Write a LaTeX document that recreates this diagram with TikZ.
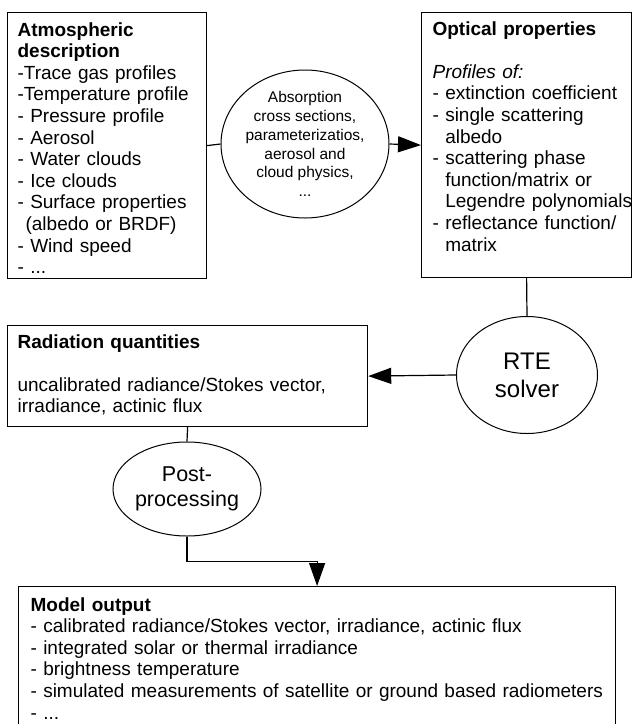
\documentclass[tikz,border=0pt]{standalone}
\usepackage{fontspec}
\setmainfont{Liberation Sans}
\usetikzlibrary{arrows.meta,shapes.geometric}

\begin{document}
\begin{tikzpicture}[x=1pt,y=-1pt,line width=1.2pt,
        box/.style={draw,rectangle,anchor=north west,inner sep=0pt},
        blob/.style={draw,ellipse,line width=1pt,inner sep=0pt,align=center},
        txt/.style={anchor=base west,inner sep=0pt,text width=#1,align=left,
            font=\fontsize{19pt}{21.6pt}\selectfont},
        arr/.style={-{Triangle[length=23pt,width=16pt]}}]
    \useasboundingbox (0,0) rectangle (632,724);
    \clip (0,0) rectangle (632,724);
    % \draw[help lines] (0,0) grid[step=50] (632,724);

    \node[box,minimum width=199pt,minimum height=266pt] (atm) at (7,12)   {};
    \node[box,minimum width=210pt,minimum height=265pt] (opt) at (421,12) {};
    \node[box,minimum width=360pt,minimum height=101pt] (rad) at (7,325)  {};
    \node[box,minimum width=597pt,minimum height=180pt] (out) at (18,586) {};

    \node[blob,minimum width=168pt,minimum height=148pt,inner sep=-8pt,
          font=\fontsize{15.5pt}{18.8pt}\selectfont] (abs) at (305,144)
        {Absorption\\cross sections,\\parameterizatios,\\aerosol and\\cloud physics,\\...};
    \node[blob,minimum width=141pt,minimum height=117pt,
          font=\fontsize{24pt}{28pt}\selectfont] (rte) at (527,375) {RTE\\solver};
    \node[blob,minimum width=148pt,minimum height=94pt,
          font=\fontsize{21.5pt}{25pt}\selectfont] (post) at (187,489) {Post-\\processing};

    \node[txt=190pt] (atm text) at (17,36)
        {\textbf{Atmospheric}\\\textbf{description}\\-Trace gas profiles\\-Temperature profile\\
         - Pressure profile\\- Aerosol\\- Water clouds\\- Ice clouds\\- Surface properties\\
         \hspace*{8pt}(albedo or BRDF)\\- Wind speed\\- ...};
    \node[txt=205pt] (opt text) at (432,35)
        {\textbf{Optical properties}\\[21.6pt]\textit{Profiles of:}\\- extinction coefficient\\
         - single scattering\\\phantom{- }albedo\\- scattering phase\\
         \phantom{- }function/matrix or\\\phantom{- }Legendre polynomials\\
         - reflectance function/\\\phantom{- }matrix};
    \node[txt=350pt] (rad text) at (17,348)
        {\textbf{Radiation quantities}\\[21.6pt]uncalibrated radiance/Stokes vector,\\
         irradiance, actinic flux};
    \node[txt=590pt] (out text) at (30,611)
        {\textbf{Model output}\\- calibrated radiance/Stokes vector, irradiance, actinic flux\\
         - integrated solar or thermal irradiance\\- brightness temperature\\
         - simulated measurements of satellite or ground based radiometers\\- ...};

    \draw (atm.east) -- (abs.west);
    \draw[arr] (abs.east) -- (opt.west);
    \draw (opt.south) -- (rte.north);
    \draw[arr] (rte.west) -- (rad.east);
    \draw (rad.south) -- (post.north);
    \draw[arr] (post.south) -- ++(0,25) -| (out.north);
\end{tikzpicture}
\end{document}
